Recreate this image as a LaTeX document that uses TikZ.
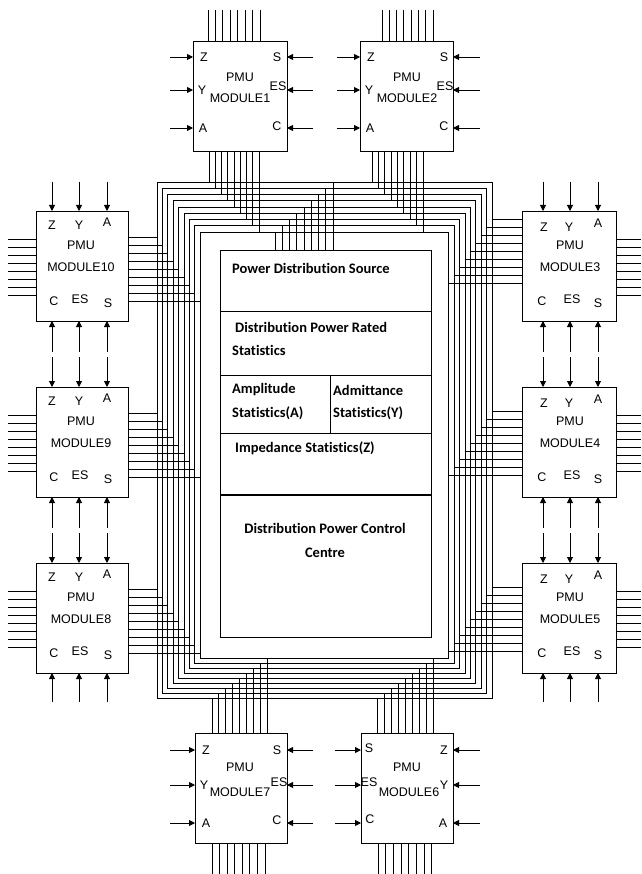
\documentclass[tikz,border=0pt]{standalone}
\usepackage{fontspec}
\setmainfont{Liberation Sans}
\newfontfamily\boxfont[Ligatures=NoCommon]{Carlito}
\usetikzlibrary{arrows.meta}
\tikzset{
  wire/.style={line width=0.9pt, black},
  modbox/.style={draw, line width=0.9pt, outer sep=0pt, inner sep=0pt, minimum height=110pt},
  arr/.style={line width=0.9pt, -{Triangle[length=6pt,width=6pt]}},
  lbl/.style={font=\fontsize{12.5}{13}\selectfont, inner sep=0pt},
  btxt/.style={font=\boxfont\bfseries\fontsize{14.5}{15}\selectfont, inner sep=0pt, anchor=west},
  ctxt/.style={font=\boxfont\bfseries\fontsize{14.5}{15}\selectfont, inner sep=0pt}
}
\begin{document}
\begin{tikzpicture}[x=1pt,y=-1pt]
\useasboundingbox (0,0) rectangle (641,874);

% ---------- bus: concentric rectangles ----------
\foreach \i in {0,...,8}
  \draw[wire] ({157+5.4*\i},{182+6.25*\i}) rectangle ({492-5.4*\i},{698-4.9*\i});
% drops into the inner box
\foreach \i in {0,...,8}
  \draw[wire] ({333-7.25*\i},{182+6.25*\i}) -- ({333-7.25*\i},250);

% ---------- inner box ----------
\node[draw, line width=0.9pt, outer sep=0pt, inner sep=0pt, minimum width=211pt, minimum height=387pt] (core) at (325.5,443.5) {};
\draw[wire] (core.west |- 0,311) -- (core.east |- 0,311);
\draw[wire] (core.west |- 0,375) -- (core.east |- 0,375);
\draw[wire] (core.west |- 0,433) -- (core.east |- 0,433);
\draw[line width=1.8pt] (core.west |- 0,495) -- (core.east |- 0,495);
\draw[wire] (330,375) -- (330,433);
\node[btxt] (t1) at (232,268) {Power Distribution Source};
\node[btxt] (t2) at (235,327) {Distribution Power Rated};
\node[btxt] (t3) at (232,350) {Statistics};
\node[btxt] (t4) at (232,390) {Amplitude};
\node[btxt] (t5) at (232,413) {Statistics(A)};
\node[btxt] (t6) at (333,390) {Admittance};
\node[btxt] (t7) at (333,413) {Statistics(Y)};
\node[btxt] (t8) at (235,448) {Impedance Statistics(Z)};
\node[ctxt] (t9) at (325,528) {Distribution Power Control};
\node[ctxt] (t10) at (325,553) {Centre};

% ---------- top modules ----------
\node[modbox, minimum width=94pt] (m1) at (240,96) {};
\node[modbox, minimum width=93pt] (m2) at (406.5,96) {};
\foreach \j in {0,...,8} {
  \draw[wire] ({209+6.25*\j},151) -- ({209+6.25*\j},{182+6.25*\j});
  \draw[wire] ({372+6.375*\j},151) -- ({372+6.375*\j},{182+6.25*\j});
}
\foreach \k in {0,...,7} {
  \draw[wire] ({208+7.43*\k},10) -- ({208+7.43*\k},41);
  \draw[wire] ({382+7.3*\k},10) -- ({382+7.3*\k},41);
}
\foreach \y in {57,90,128} {
  \draw[arr] (170,\y) -- (193,\y);
  \draw[arr] (313,\y) -- (287,\y);
  \draw[arr] (337,\y) -- (360,\y);
  \draw[arr] (480,\y) -- (453,\y);
}
\node[lbl] (m1z) at (204,57) {Z};
\node[lbl] (m1y) at (202,90) {Y};
\node[lbl] (m1a) at (203,128) {A};
\node[lbl] (m1s) at (277,57) {S};
\node[lbl] (m1es) at (278,86) {ES};
\node[lbl] (m1c) at (277,126) {C};
\node[lbl] (m1p) at (240,77) {PMU};
\node[lbl] (m1m) at (240,98) {MODULE1};
\node[lbl] (m2z) at (371,57) {Z};
\node[lbl] (m2y) at (369,90) {Y};
\node[lbl] (m2a) at (370,128) {A};
\node[lbl] (m2s) at (444,57) {S};
\node[lbl] (m2es) at (445,86) {ES};
\node[lbl] (m2c) at (444,126) {C};
\node[lbl] (m2p) at (407,77) {PMU};
\node[lbl] (m2m) at (407,98) {MODULE2};

% ---------- bottom modules ----------
\node[modbox, minimum width=92pt] (m7) at (241,788) {};
\node[modbox, minimum width=92pt] (m6) at (407,788) {};
\foreach \j in {0,...,8} {
  \draw[wire] ({212+6.9*\j},733) -- ({212+6.9*\j},{698-4.9*\j});
  \draw[wire] ({377+7*\j},733) -- ({377+7*\j},{698-4.9*\j});
}
\foreach \k in {0,...,7} {
  \draw[wire] ({212+7.57*\k},843) -- ({212+7.57*\k},874);
  \draw[wire] ({378+7.7*\k},843) -- ({378+7.7*\k},874);
}
\foreach \y in {750,785,823} {
  \draw[arr] (170,\y) -- (195,\y);
  \draw[arr] (313,\y) -- (287,\y);
  \draw[arr] (335,\y) -- (361,\y);
  \draw[arr] (480,\y) -- (453,\y);
}
\node[lbl] (m7z) at (206,750) {Z};
\node[lbl] (m7y) at (204,785) {Y};
\node[lbl] (m7a) at (206,823) {A};
\node[lbl] (m7s) at (277,750) {S};
\node[lbl] (m7es) at (279,782) {ES};
\node[lbl] (m7c) at (277,820) {C};
\node[lbl] (m7p) at (240,767) {PMU};
\node[lbl] (m7m) at (240,792) {MODULE7};
\node[lbl] (m6s) at (369,748) {S};
\node[lbl] (m6es) at (369,782) {ES};
\node[lbl] (m6c) at (370,819) {C};
\node[lbl] (m6z) at (444,750) {Z};
\node[lbl] (m6y) at (444,785) {Y};
\node[lbl] (m6a) at (443,823) {A};
\node[lbl] (m6p) at (407,767) {PMU};
\node[lbl] (m6m) at (409,792) {MODULE6};

% ---------- left modules ----------
\foreach \n/\t in {10/211, 9/387, 8/563} {
  \node[modbox, minimum width=92pt] (m\n) at (82,\t+55) {};
  \foreach \j in {0,...,8}
    \draw[wire] (128,{\t+26+8*\j}) -- ({157+5.4*\j},{\t+26+8*\j});
  \foreach \k in {0,...,7}
    \draw[wire] (8,{\t+28+8*\k}) -- (36,{\t+28+8*\k});
  \node[lbl] (m\n z) at (52,\t+14) {Z};
  \node[lbl] (m\n y) at (79,\t+14) {Y};
  \node[lbl] (m\n a) at (107,\t+11) {A};
  \node[lbl] (m\n p) at (81,\t+34) {PMU};
  \node[lbl] (m\n m) at (81,\t+56) {MODULE\n};
  \node[lbl] (m\n c) at (54,\t+90) {C};
  \node[lbl] (m\n es) at (80,\t+88) {ES};
  \node[lbl] (m\n s) at (108,\t+92) {S};
}
% ---------- right modules ----------
\foreach \n/\t/\o in {3/211/8, 4/387/24, 5/563/24} {
  \node[modbox, minimum width=94pt] (m\n) at (569,\t+55) {};
  \foreach \j in {0,...,8}
    \draw[wire] ({492-5.4*\j},{\t+\o+8*\j}) -- (522,{\t+\o+8*\j});
  \foreach \k in {0,...,7}
    \draw[wire] (616,{\t+28+8*\k}) -- (641,{\t+28+8*\k});
  \node[lbl] (m\n z) at (544,\t+16) {Z};
  \node[lbl] (m\n y) at (569,\t+16) {Y};
  \node[lbl] (m\n a) at (598,\t+12) {A};
  \node[lbl] (m\n p) at (570,\t+34) {PMU};
  \node[lbl] (m\n m) at (570,\t+56) {MODULE\n};
  \node[lbl] (m\n c) at (542,\t+90) {C};
  \node[lbl] (m\n es) at (572,\t+88) {ES};
  \node[lbl] (m\n s) at (598,\t+92) {S};
}
% ---------- vertical arrows of the side modules ----------
\foreach \x in {52,79,107,543,570,598} {
  \draw[arr] (\x,182) -- (\x,211);
  \draw[arr] (\x,352) -- (\x,321);
  \draw[arr] (\x,357) -- (\x,387);
  \draw[arr] (\x,528) -- (\x,497);
  \draw[arr] (\x,533) -- (\x,563);
  \draw[arr] (\x,702) -- (\x,673);
}
\end{tikzpicture}
\end{document}
